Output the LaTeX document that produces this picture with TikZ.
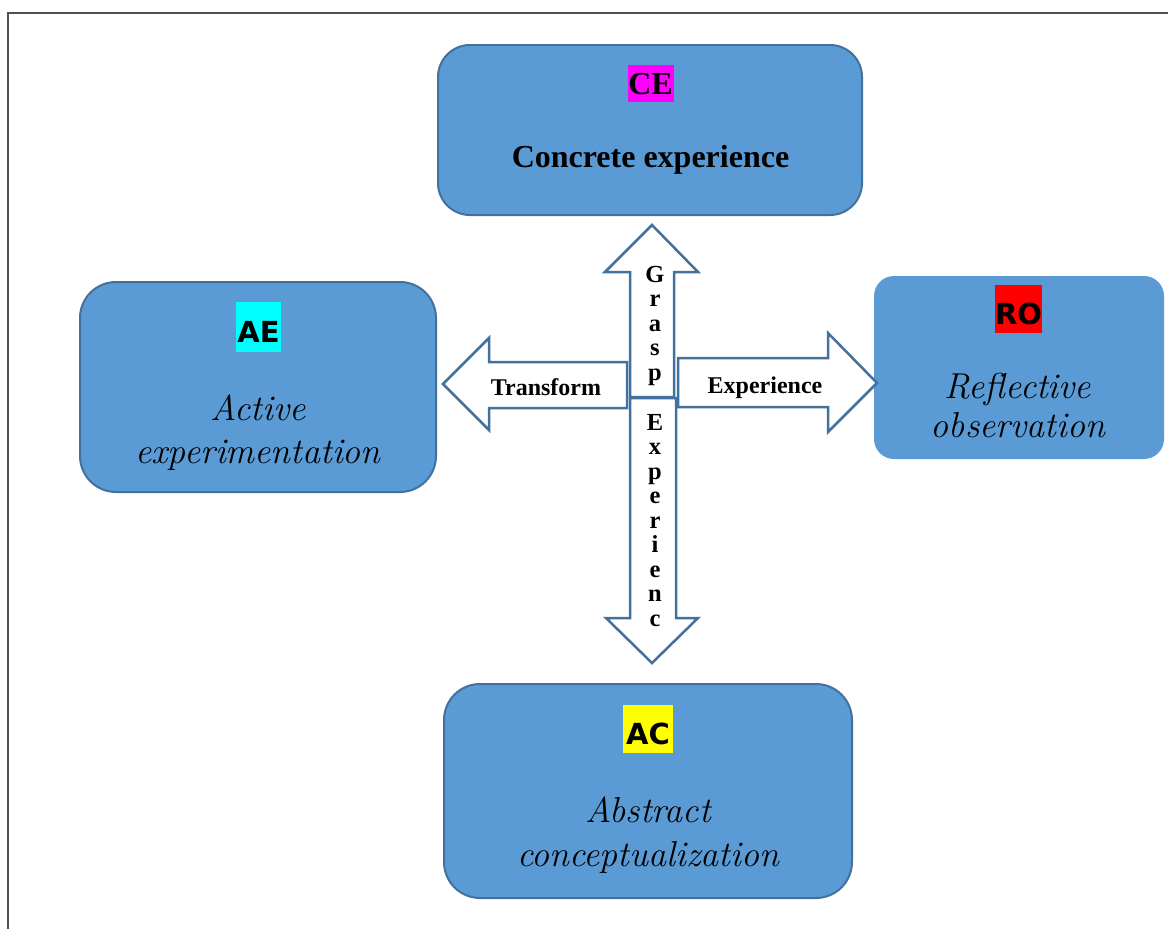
\documentclass[tikz,border=0pt]{standalone}
\usepackage{fontspec}
\newfontfamily\tnr{Liberation Serif}
\newfontfamily\lblfont{DejaVu Sans}
\definecolor{boxfill}{HTML}{5B9BD5}
\definecolor{boxline}{HTML}{41719C}
\definecolor{framegray}{HTML}{505050}
\definecolor{lblmag}{HTML}{FF00FF}
\definecolor{lblcyan}{HTML}{00FFFF}
\definecolor{lblred}{HTML}{FF0000}
\definecolor{lblyel}{HTML}{FFFF00}
\tikzset{
  stagebox/.style={fill=boxfill, draw=boxline, line width=2pt, rounded corners=32pt, inner sep=0pt},
  tagbox/.style={inner sep=0pt, anchor=center},
  serifbold/.style={font=\tnr\bfseries\fontsize{32}{36}\selectfont, inner sep=0pt, anchor=base},
  arrowlabel/.style={font=\tnr\bfseries\fontsize{24}{26}\selectfont, inner sep=0pt, anchor=base},
  vletter/.style={font=\tnr\bfseries\fontsize{24.5}{26}\selectfont, inner sep=0pt, anchor=base},
  handtext/.style={font=\itshape\fontsize{36}{40}\selectfont, inner sep=0pt, anchor=base},
  tagtext/.style={font=\lblfont\bfseries\fontsize{29}{32}\selectfont, inner sep=0pt, anchor=base},
  bigarrow/.style={fill=white, draw=boxline, line width=2.5pt, line join=miter},
}
\begin{document}
\begin{tikzpicture}[x=1pt, y=-1pt]
\useasboundingbox (0,0) rectangle (1168,929);
% frame
\draw[framegray, line width=2pt] (8,929) -- (8,13) -- (1168,13);

% stage boxes
\node[stagebox, minimum width=424pt, minimum height=170pt] (ce) at (650,130) {};
\node[stagebox, minimum width=356pt, minimum height=210pt, rounded corners=36pt] (ae) at (258,387) {};
\node[stagebox, draw=none, minimum width=290pt, minimum height=183pt, rounded corners=20pt] (ro) at (1019,367.5) {};
\node[stagebox, minimum width=408pt, minimum height=214pt, rounded corners=36pt] (ac) at (648,791) {};

% tags
\node[tagbox, fill=lblmag, minimum width=46pt, minimum height=37pt] (cetag) at (650.5,83.5) {};
\node[serifbold] (cetext) at (650.5,94) {CE};
\node[tagbox, fill=lblcyan, minimum width=45pt, minimum height=50pt] (aetag) at (258.5,327) {};
\node[tagtext] (aetext) at (258.5,342) {AE};
\node[tagbox, fill=lblred, minimum width=47pt, minimum height=48pt] (rotag) at (1018.5,309) {};
\node[tagtext] (rotext) at (1018.5,324) {RO};
\node[tagbox, fill=lblyel, minimum width=50pt, minimum height=48pt] (actag) at (648,729) {};
\node[tagtext] (actext) at (648,744) {AC};

% box texts
\node[serifbold] (cename) at (650.5,167) {Concrete experience};
\node[handtext] (ae1) at (258,420) {Active};
\node[handtext] (ae2) at (258,463) {experimentation};
\node[handtext] (ro1) at (1018,398) {Reflective};
\node[handtext] (ro2) at (1018,437) {observation};
\node[handtext] (ac1) at (648,822) {Abstract};
\node[handtext] (ac2) at (648,866) {conceptualization};

% block arrows
\draw[bigarrow] (627,362) -- (489,362) -- (489,338) -- (443,384) -- (489,430) -- (489,408) -- (627,408) -- cycle;
\draw[bigarrow] (678,358) -- (828,358) -- (828,333) -- (877,383) -- (828,432) -- (828,407) -- (678,407) -- cycle;
\draw[bigarrow] (630,397) -- (630,272) -- (605,272) -- (652,225) -- (698,272) -- (674,272) -- (674,397) -- cycle;
\draw[bigarrow] (630,398) -- (630,618) -- (606,618) -- (652,663) -- (698,618) -- (676,618) -- (676,398) -- cycle;

\node[arrowlabel] (transform) at (546,395) {Transform};
\node[arrowlabel] (experience) at (765,393) {Experience};

\foreach \ch [count=\i] in {G,r,a,s,p}
  \node[vletter] (grasp\i) at (655,{282+24.5*(\i-1)}) {\ch};
\foreach \ch [count=\i] in {E,x,p,e,r,i,e,n,c}
  \node[vletter] (exp\i) at (655,{430+24.5*(\i-1)}) {\ch};
\end{tikzpicture}
\end{document}
